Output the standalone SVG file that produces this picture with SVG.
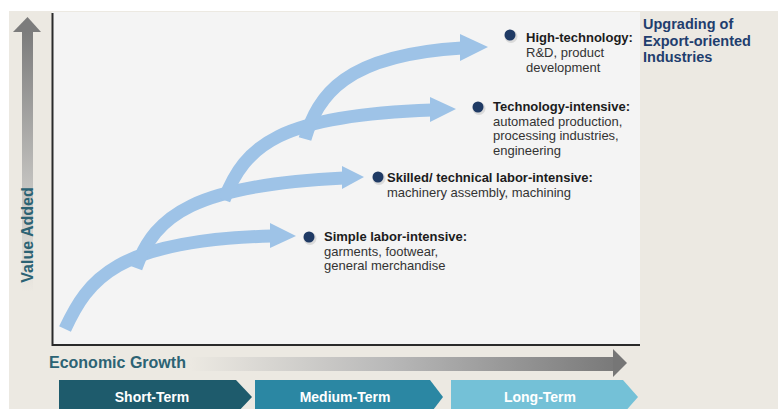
<svg xmlns="http://www.w3.org/2000/svg" width="778" height="409" viewBox="0 0 778 409">
<defs>
<linearGradient id="vgrad" x1="0" y1="32" x2="0" y2="292" gradientUnits="userSpaceOnUse">
<stop offset="0" stop-color="#7c7c7c"/>
<stop offset="0.6" stop-color="#c4c3c0"/>
<stop offset="1" stop-color="#ECE9E2"/>
</linearGradient>
<linearGradient id="hgrad" x1="190" y1="0" x2="627" y2="0" gradientUnits="userSpaceOnUse">
<stop offset="0" stop-color="#ECE9E2"/>
<stop offset="0.45" stop-color="#b9b9b9"/>
<stop offset="1" stop-color="#767676"/>
</linearGradient>
<style>
.arc{fill:none;stroke:#9EC3E7;stroke-width:13;stroke-linecap:butt}
.head{fill:#9EC3E7}
.dot{fill:#1F3A64}
.shadow{fill:#cfcfcf;opacity:0.7}
.b{font-family:"Liberation Sans",Arial,sans-serif;font-size:13px;font-weight:bold;fill:#1c1c1c}
.r{font-family:"Liberation Sans",Arial,sans-serif;font-size:13px;fill:#333333}
.ttl{font-family:"Liberation Sans",Arial,sans-serif;font-size:14.5px;font-weight:bold;fill:#1F3E6E}
.ax{font-family:"Liberation Sans",Arial,sans-serif;font-size:16px;font-weight:bold;fill:#2C6374}
.ch{font-family:"Liberation Sans",Arial,sans-serif;font-size:14px;font-weight:bold;fill:#ffffff}
</style>
</defs>
<rect x="0" y="0" width="778" height="409" fill="#ffffff"/>
<rect x="9" y="11" width="769" height="398" fill="#ECE9E2"/>
<rect x="52" y="12" width="588" height="333" fill="#F4F4F4"/>
<line x1="52.5" y1="13" x2="52.5" y2="346" stroke="#2a2a2a" stroke-width="2"/>
<line x1="52" y1="345" x2="640" y2="345" stroke="#2a2a2a" stroke-width="2"/>

<g id="y-axis">
<rect x="22" y="31" width="11" height="261" fill="url(#vgrad)"/>
<polygon points="13,32 27.5,17 41,32" fill="#7c7c7c"/>
<text class="ax" transform="translate(33,235) rotate(-90)" text-anchor="middle">Value Added</text>
</g>

<g id="x-axis">
<rect x="190" y="357" width="424" height="14" fill="url(#hgrad)"/>
<polygon points="613,349 627,363 613,377" fill="#767676"/>
<text class="ax" x="49" y="368">Economic Growth</text>
</g>

<g id="phases">
<polygon points="59,380 236,380 252,397 236,414 59,414" fill="#1E5B6C"/>
<text class="ch" x="152" y="402" text-anchor="middle">Short-Term</text>
<polygon points="255,380 430,380 443,397 430,414 255,414" fill="#2B87A3"/>
<text class="ch" x="345" y="402" text-anchor="middle">Medium-Term</text>
<polygon points="451,380 623,380 638,397 623,414 451,414" fill="#74C1D7"/>
<text class="ch" x="540" y="402" text-anchor="middle">Long-Term</text>
</g>

<g id="connectors">
<path class="arc" d="M65 329 C88 280 115 240 272 236"/>
<polygon class="head" points="270,223 296,236 270,248"/>
<path class="arc" d="M136 268 C155 215 195 185 344 178"/>
<polygon class="head" points="342,166 364,177 342,189"/>
<path class="arc" d="M224 200 C245 145 280 115 432 110"/>
<polygon class="head" points="430,97 456,109 430,122"/>
<path class="arc" d="M305 139 C318 95 345 55 462 48"/>
<polygon class="head" points="460,34 488,47 460,61"/>
</g>

<g id="node-simple">
<circle class="shadow" cx="310" cy="238.5" r="6.5"/>
<circle class="dot" cx="309" cy="237" r="5.5"/>
<text class="b" x="324" y="241">Simple labor-intensive:</text>
<text class="r" x="324" y="255.5">garments, footwear,</text>
<text class="r" x="324" y="270">general merchandise</text>
</g>

<g id="node-skilled">
<circle class="shadow" cx="379" cy="178.5" r="6.5"/>
<circle class="dot" cx="378" cy="177" r="5.5"/>
<text class="b" x="387" y="182">Skilled/ technical labor-intensive:</text>
<text class="r" x="387" y="197">machinery assembly, machining</text>
</g>

<g id="node-technology">
<circle class="shadow" cx="479" cy="108.5" r="6.5"/>
<circle class="dot" cx="478" cy="107" r="5.5"/>
<text class="b" x="493" y="111">Technology-intensive:</text>
<text class="r" x="493" y="125.5">automated production,</text>
<text class="r" x="493" y="140">processing industries,</text>
<text class="r" x="493" y="154.5">engineering</text>
</g>

<g id="node-hightech">
<circle class="shadow" cx="511" cy="36.5" r="6.5"/>
<circle class="dot" cx="510" cy="35" r="5.5"/>
<text class="b" x="526" y="42">High-technology:</text>
<text class="r" x="526" y="57">R&amp;D, product</text>
<text class="r" x="526" y="72">development</text>
</g>

<g id="title">
<text class="ttl" x="643" y="29">Upgrading of</text>
<text class="ttl" x="643" y="45.5">Export-oriented</text>
<text class="ttl" x="643" y="62">Industries</text>
</g>
</svg>
